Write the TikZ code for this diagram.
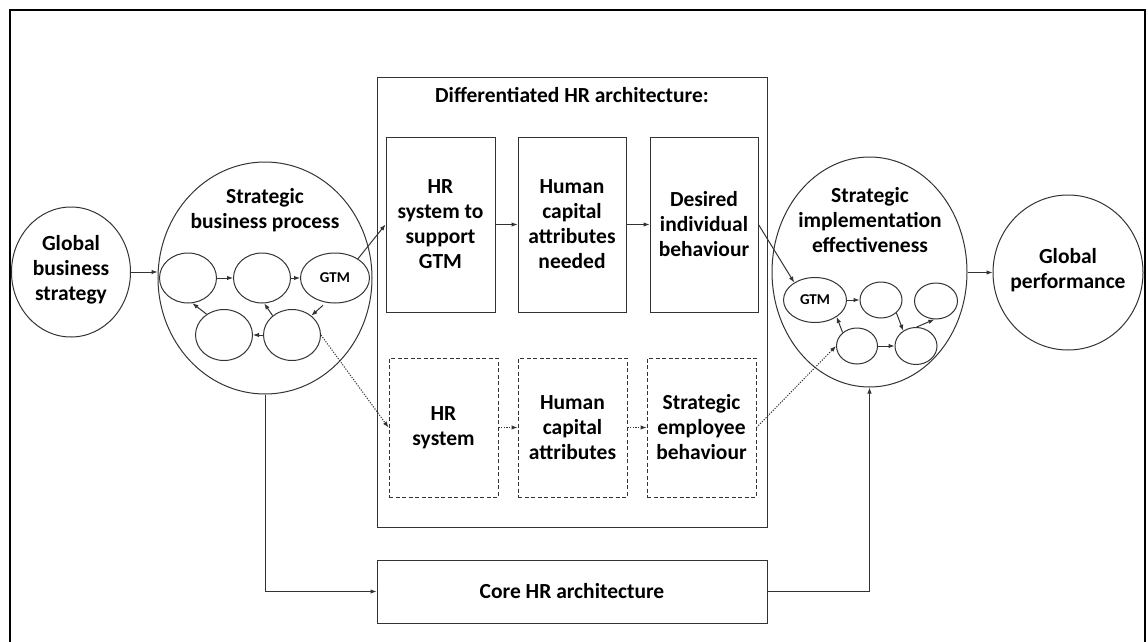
\documentclass[tikz,border=0pt]{standalone}
\usepackage{fontspec}
\setmainfont{Carlito}
\usetikzlibrary{shapes.geometric,arrows.meta}
\definecolor{lineclr}{gray}{0.2}
\begin{document}
\begin{tikzpicture}[x=1pt,y=-1pt,
  line width=1pt,
  every node/.style={font=\bfseries\fontsize{21.5}{25}\selectfont, align=center, text=black},
  ell/.style={draw=lineclr, ellipse, inner sep=0pt},
  box/.style={draw=lineclr, rectangle, inner sep=0pt},
  dbox/.style={box, dash pattern=on 4pt off 2.5pt},
  arr/.style={draw=lineclr, -{Latex[length=6pt,width=4.5pt]}},
  dotarr/.style={arr, dash pattern=on 1.2pt off 1.4pt},
  small/.style={font=\bfseries\fontsize{15}{18}\selectfont},
]
\useasboundingbox (0,0) rectangle (1148,642);
% outer frame (open at the bottom edge of the page)
\draw[line width=2.2pt, black] (10,642) -- (10,10) -- (1145,10) -- (1145,642);

% global business strategy
\node[ell, minimum width=119pt, minimum height=130pt] (gbs) at (71,272) {};
\node (gbstxt) at (71,270) {Global\\business\\strategy};

% strategic business process with its inner cycle
\node[ell, minimum width=214pt, minimum height=232pt] (sbp) at (265,278) {};
\node (sbptxt) at (265,210) {Strategic\\business process};
\node[ell, minimum width=57pt, minimum height=50pt] (l1) at (188,278) {};
\node[ell, minimum width=57pt, minimum height=50pt] (l2) at (262,278) {};
\node[ell, small, minimum width=69pt, minimum height=50pt] (l3) at (335,278) {GTM};
\node[ell, minimum width=57pt, minimum height=51pt] (l4) at (224,335) {};
\node[ell, minimum width=57pt, minimum height=51pt] (l5) at (292,335) {};

% differentiated HR architecture
\node[box, minimum width=390pt, minimum height=450pt] (diff) at (572,302) {};
\node (difftxt) at (572,95) {Differentiated HR architecture:};
\node[box, minimum width=109pt, minimum height=175pt] (hr1) at (440.5,224.5) {HR\\system to\\support\\GTM};
\node[box, minimum width=108pt, minimum height=175pt] (hc1) at (572,224.5) {Human\\capital\\attributes\\needed};
\node[box, minimum width=108pt, minimum height=175pt] (dib) at (704,224.5) {Desired\\individual\\behaviour};
\node[dbox, minimum width=109pt, minimum height=139pt] (hrs) at (443.5,427.5) {HR\\system};
\node[dbox, minimum width=109pt, minimum height=139pt] (hca) at (572.5,427.5) {Human\\capital\\attributes};
\node[dbox, minimum width=109pt, minimum height=139pt] (seb) at (701.5,427.5) {Strategic\\employee\\behaviour};

% core HR architecture
\node[box, minimum width=390pt, minimum height=63pt] (core) at (572,591.5) {Core HR architecture};

% strategic implementation effectiveness with its inner network
\node[ell, minimum width=195pt, minimum height=230pt] (sie) at (869.5,272) {};
\node (sietxt) at (870,220) {Strategic\\implementation\\effectiveness};
\node[ell, small, minimum width=63pt, minimum height=45pt] (r1) at (815,300) {GTM};
\node[ell, minimum width=42pt, minimum height=36pt] (r2) at (881,300) {};
\node[ell, minimum width=43pt, minimum height=36pt] (r3) at (936,301) {};
\node[ell, minimum width=41pt, minimum height=36pt] (r4) at (857,346) {};
\node[ell, minimum width=42pt, minimum height=37pt] (r5) at (916,346) {};

% global performance
\node[ell, minimum width=150pt, minimum height=155pt] (gp) at (1068,272.5) {};
\node (gptxt) at (1068,270) {Global\\performance};

% main flow
\draw[arr] (gbs.east) -- (gbs.east -| sbp.west);
\draw[arr] (l3.40) -- (hr1.west);
\draw[arr] (hr1.east) -- (hc1.west);
\draw[arr] (hc1.east) -- (dib.west);
\draw[arr] (dib.east) -- (r1.140);
\draw[arr] (sie.east |- gp.west) -- (gp.west);
\draw[arr] (sbp.south) |- (core.west);
\draw[arr] (core.east) -| (sie.south);

% dotted flow
\draw[dotarr] (l5.east) -- (hrs.west);
\draw[dotarr] (hrs.east) -- (hca.west);
\draw[dotarr] (hca.east) -- (seb.west);
\draw[dotarr] (seb.east) -- (r4.west);

% inner cycle of the business process
\draw[arr] (l1.east) -- (l2.west);
\draw[arr] (l2.east) -- (l3.west);
\draw[arr, shorten <=4pt] (l3.250) -- (l5.45);
\draw[arr] (l5.west) -- (l4.east);
\draw[arr] (l4.130) -- (l1.280);
\draw[arr] (l5.135) -- (l2.275);

% inner network of implementation effectiveness
\draw[arr] (r1.east) -- (r2.west);
\draw[arr] (r2.-40) -- (r5.130);
\draw[arr] (r5.88) -- (r3.265);
\draw[arr] (r4.137) -- (r1.-38);
\draw[arr] (r4.east) -- (r5.west);
\end{tikzpicture}
\end{document}
